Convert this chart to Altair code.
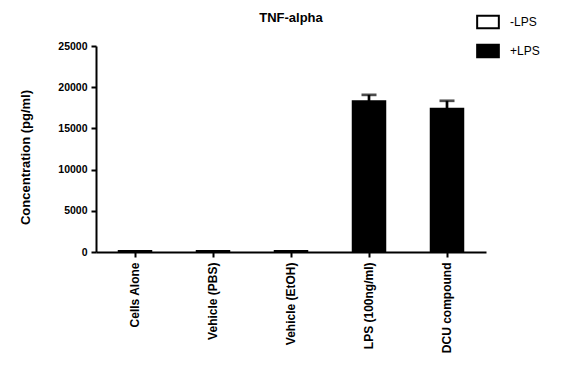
import altair as alt
import pandas as pd

categories = ["Cells Alone", "Vehicle (PBS)", "Vehicle (EtOH)", "LPS (100ng/ml)", "DCU compound"]
series = ["-LPS", "-LPS", "-LPS", "+LPS", "+LPS"]
values = [160, 140, 150, 18320, 17400]
errors = [0, 0, 0, 750, 950]

df = pd.DataFrame({
    "cat": categories,
    "grp": series,
    "val": values,
    "err": errors,
})
df["top"] = df["val"] + df["err"]
err_df = df[df["err"] > 0]

FONT = "Liberation Sans"

x_enc = alt.X("cat:N", sort=categories, title=None,
              scale=alt.Scale(paddingInner=0.0, paddingOuter=0.0),
              axis=alt.Axis(labelAngle=-90, labelAlign="right", labelBaseline="middle",
                            labelPadding=5, tickSize=5, tickWidth=2, tickColor="black",
                            domainColor="black", domainWidth=2,
                            labelFont=FONT, labelFontSize=12, labelFontWeight="bold",
                            labelColor="black"))

y_scale = alt.Scale(domain=[0, 25000], nice=False)
y_axis = alt.Axis(values=[0, 5000, 10000, 15000, 20000, 25000], format="d",
                  tickSize=5, tickWidth=2, tickColor="black",
                  domainColor="black", domainWidth=2, labelPadding=4,
                  labelFont=FONT, labelFontSize=10.5, labelFontWeight="bold", labelColor="black",
                  title="Concentration (pg/ml)", titleFont=FONT, titleFontSize=13,
                  titleFontWeight="bold", titleColor="black",
                  titleAngle=-90, titleX=-71, titleY=111, titleAlign="center",
                  titleBaseline="middle", grid=False)

legend = alt.Legend(title=None, orient="none", legendX=380, legendY=-36,
                    symbolType="M-1,-0.585H1V0.585H-1Z", symbolSize=470,
                    symbolStrokeWidth=2, symbolStrokeColor="black",
                    labelFont=FONT, labelFontSize=12, labelColor="black",
                    labelOffset=10, rowPadding=6, padding=0)

bars = alt.Chart(df).mark_bar(size=33, stroke="black", strokeWidth=1.5).encode(
    x=x_enc,
    y=alt.Y("val:Q", scale=y_scale, axis=y_axis),
    fill=alt.Fill("grp:N", scale=alt.Scale(domain=["-LPS", "+LPS"], range=["white", "black"]),
                  legend=legend),
)

whisker = alt.Chart(err_df).mark_rule(color="black", strokeWidth=2.7).encode(
    x=alt.X("cat:N", sort=categories),
    y=alt.Y("val:Q", scale=y_scale),
    y2="top:Q",
)

cap = alt.Chart(err_df).mark_tick(color="black", size=15, thickness=2.7).encode(
    x=alt.X("cat:N", sort=categories),
    y=alt.Y("top:Q", scale=y_scale),
)

chart = alt.layer(bars, whisker, cap).properties(
    width=390,
    height=206,
    background="white",
    title=alt.TitleParams("TNF-alpha", font=FONT, fontSize=13, fontWeight="bold",
                          color="black", anchor="middle", offset=0, baseline="alphabetic",
                          dy=25),
    autosize=alt.AutoSizeParams(type="none"),
    padding={"left": 96, "top": 46, "right": 77, "bottom": 131},
).configure_view(stroke=None).configure_axis(grid=False, titleColor="black")

chart.save("out.html", embed_options={"renderer": "svg", "actions": False})
